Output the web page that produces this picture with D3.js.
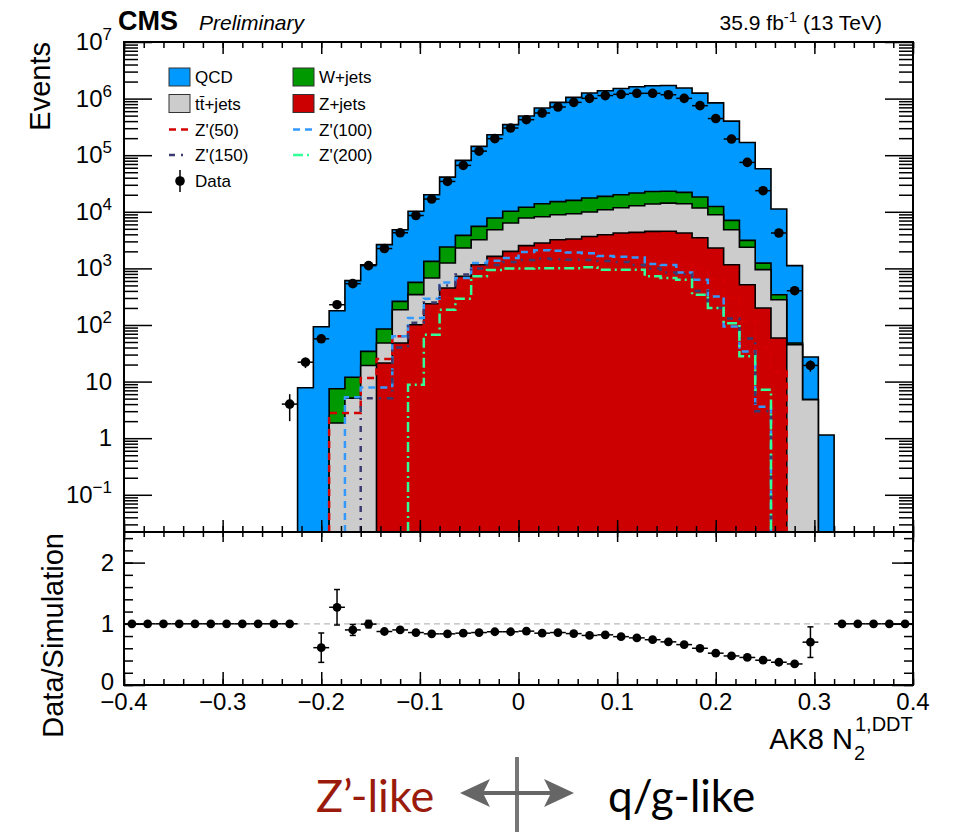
<!DOCTYPE html>
<html>
<head>
<meta charset="utf-8">
<title>AK8 N2 DDT</title>
<style>
  body { margin: 0; background: #fff; }
  svg { display: block; font-family: "Liberation Sans", Arial, sans-serif; }
  .ticks line { stroke: #000; stroke-width: 1.5; }
  .ticks path { display: none; }
  .ticks text { display: none; }
  .lbl { font-size: 24px; fill: #000; }
</style>
</head>
<body>
<svg width="957" height="832"></svg>
<script src="https://d3js.org/d3.v7.min.js"></script>
<script>
// binning: 50 bins of 0.016 from -0.4 to 0.4
var binStart = -0.4, binWidth = 0.016, nBins = 50;

// stacked backgrounds (events per bin), rows of 10 bins
var qcd = [0,0,0,0,0,0,0,0,0,0,
           0,7.8,93,171,595,1126,2545,4570,9630,18670,
           38600,77200,137500,222000,336000,481000,669000,842000,1034000,1242000,
           1361000,1490000,1598000,1667000,1677000,1518000,1232000,828000,393000,164000,
           56300,10860,1069,22.4,1.14,0,0,0,0,0];
var wjets = [0,0,0,0,0,0,0,0,0,0,
             0,0,0,5.6,6.8,14.9,37,75,222,654,
             1145,1540,2310,2930,3860,4230,5720,6210,6650,7590,
             7800,8200,8700,9200,8900,8100,6600,3510,2220,760,
             290,63,3,0,0,0,0,0,0,0];
var ttbar = [0,0,0,0,0,0,0,0,0,0,
             0,0,0,1.86,5.1,19.3,26.7,138,243,438,
             794,1567,2050,3200,4340,5250,5370,5680,5950,6240,
             6960,7580,8480,9200,9680,9680,8220,6600,3670,1855,
             750,221,45,4.8,0,0,0,0,0,0];
var zjets = [0,0,0,0,0,0,0,0,0,0,
             0,0,0,0,0,0,21.3,48,101,238,
             451,723,1160,1630,2000,2520,2810,3210,3300,3670,
             3940,4220,4320,4500,4520,4220,3480,2290,1160,515,
             200,59,0,0,0,0,0,0,0,0];

// signal shapes
var zp50 = [0,0,0,0,0,0,0,0,0,0,
            0,0,0,2.8,2.8,11.6,25,63,80,170,
            300,450,650,800,950,1100,1200,1300,1350,1400,
            1400,1400,1400,1350,1300,1200,1000,650,300,120,
            40,15,0,0,0,0,0,0,0,0];
var zp100 = [0,0,0,0,0,0,0,0,0,0,
             0,0,0,0,5.3,7.9,7.9,63,133,292,
             566,676,1245,1370,1530,1950,2100,2050,1900,1850,
             1650,1600,1550,1200,1150,850,630,320,94,34,
             3.6,0,0,0,0,0,0,0,0,0];
var zp150 = [0,0,0,0,0,0,0,0,0,0,
             0,0,0,0,0,5.1,5.1,40,110,250,
             500,780,1000,1150,1300,1400,1500,1450,1420,1400,
             1350,1300,1150,1000,850,800,400,200,130,58,
             3.0,0,0,0,0,0,0,0,0,0];
var zp200 = [0,0,0,0,0,0,0,0,0,0,
             0,0,0,0,0,0,0,0,8.8,67,
             186,290,723,940,1000,1000,1010,1010,1010,1050,
             950,950,950,723,676,631,343,200,107,28,
             7.2,0,0,0,0,0,0,0,0,0];

// observed data
var data = [0,0,0,0,0,0,0,0,0,0,
            4,22,57,228,537,1117,2240,4260,8600,16800,
            34400,66100,118000,196000,302000,424000,557000,711000,858000,1010000,
            1130000,1190000,1240000,1240000,1170000,1010000,750000,444000,193000,74600,
            23600,4220,403,19.3,0,0,0,0,0,0];

// data / simulation as drawn (null = not drawn)
var ratio = [1,1,1,1,1,1,1,1,1,1,
             1,null,0.61,1.27,0.90,0.995,0.874,0.90,0.857,0.836,
             0.836,0.847,0.857,0.87,0.87,0.88,0.847,0.857,0.84,0.81,
             0.82,0.79,0.77,0.74,0.705,0.66,0.60,0.52,0.475,0.45,
             0.405,0.372,0.344,0.70,null,1,1,1,1,1];
var ratioErr = [0,0,0,0,0,0,0,0,0,0,
                0,0,0.24,0.29,0.09,0.06,0.04,0.03,0.02,0.02,
                0.01,0.01,0.01,0.01,0.01,0.01,0.01,0.01,0.01,0.01,
                0.01,0.01,0.01,0.01,0.01,0.01,0.01,0.01,0.01,0.01,
                0.01,0.02,0.03,0.25,0,0,0,0,0,0];

var xTickValues = [-0.4,-0.3,-0.2,-0.1,0,0.1,0.2,0.3,0.4];
var xTickLabels = ['\u22120.4','\u22120.3','\u22120.2','\u22120.1','0','0.1','0.2','0.3','0.4'];
var logExponents = [-1,0,1,2,3,4,5,6,7];
var ratioTickValues = [0,1,2];

var svg = d3.select('svg');
var L = 124, R = 913, T = 42, MID = 532, B = 685;
var yMin = 0.022;

var x = d3.scaleLinear().domain([-0.4,0.4]).range([L,R]);
var y = d3.scaleLog().domain([yMin,1e7]).range([MID,T]);
var yr = d3.scaleLinear().domain([0,2.5]).range([B,MID]);

function edge(i) { return binStart + i*binWidth; }
function center(i) { return binStart + (i+0.5)*binWidth; }

function stepPath(vals, close) {
  var first = -1, last = -1;
  vals.forEach(function(v,i){ if (v > 0) { if (first < 0) first = i; last = i; } });
  var p = 'M' + x(edge(first)) + ',' + y(yMin);
  for (var i = first; i <= last; i++) {
    p += 'V' + y(Math.max(vals[i], yMin)) + 'H' + x(edge(i+1));
  }
  p += 'V' + y(yMin);
  return close ? p + 'Z' : p;
}

svg.append('clipPath').attr('id','up').append('rect')
  .attr('x',L).attr('y',T).attr('width',R-L).attr('height',MID-T);

var upper = svg.append('g').attr('clip-path','url(#up)');

// stack: cumulative sums
var cumZ = zjets.slice();
var cumT = zjets.map(function(v,i){ return v + ttbar[i]; });
var cumW = cumT.map(function(v,i){ return v + wjets[i]; });
var cumQ = cumW.map(function(v,i){ return v + qcd[i]; });

var stack = [
  {vals: cumQ, fill: '#0099ff'},
  {vals: cumW, fill: '#009900'},
  {vals: cumT, fill: '#cccccc'},
  {vals: cumZ, fill: '#cc0000'}
];
upper.selectAll('path.stack').data(stack).enter().append('path')
  .attr('class','stack')
  .attr('d', function(d){ return stepPath(d.vals, true); })
  .style('fill', function(d){ return d.fill; })
  .style('stroke', '#000').style('stroke-width', 1.6);

// signals
var signals = [
  {name: "Z'(50)",  vals: zp50,  color: '#d40000', dash: '7,5'},
  {name: "Z'(100)", vals: zp100, color: '#3399ff', dash: '7,5'},
  {name: "Z'(150)", vals: zp150, color: '#3a3a70', dash: '6,6,2,6'},
  {name: "Z'(200)", vals: zp200, color: '#33ff99', dash: '10,4,2,4'}
];
upper.selectAll('path.sig').data(signals).enter().append('path')
  .attr('class','sig')
  .attr('d', function(d){ return stepPath(d.vals, false); })
  .style('fill','none')
  .style('stroke', function(d){ return d.color; })
  .style('stroke-width', 2.5)
  .style('stroke-dasharray', function(d){ return d.dash; });

// data points
var dataPts = data.map(function(v,i){ return {i:i, v:v}; }).filter(function(d){ return d.v > 0; });
var dg = upper.append('g');
dg.selectAll('line.xe').data(dataPts).enter().append('line')
  .attr('x1', function(d){ return x(edge(d.i)); })
  .attr('x2', function(d){ return x(edge(d.i+1)); })
  .attr('y1', function(d){ return y(d.v); })
  .attr('y2', function(d){ return y(d.v); })
  .style('stroke','#000').style('stroke-width',1.5);
dg.selectAll('line.ye').data(dataPts).enter().append('line')
  .attr('x1', function(d){ return x(center(d.i)); })
  .attr('x2', function(d){ return x(center(d.i)); })
  .attr('y1', function(d){ return y(d.v + Math.sqrt(d.v)); })
  .attr('y2', function(d){ return y(Math.max(d.v - Math.sqrt(d.v), yMin)); })
  .style('stroke','#000').style('stroke-width',1.5);
dg.selectAll('circle').data(dataPts).enter().append('circle')
  .attr('cx', function(d){ return x(center(d.i)); })
  .attr('cy', function(d){ return y(d.v); })
  .attr('r', 4.8).style('fill','#000');

// ratio panel
svg.append('line').attr('x1',x(-0.4)).attr('x2',x(0.4)).attr('y1',yr(1)).attr('y2',yr(1))
  .style('stroke','#bbb').style('stroke-width',1.2).style('stroke-dasharray','6,4');
var rPts = ratio.map(function(v,i){ return {i:i, v:v, e:ratioErr[i]}; }).filter(function(d){ return d.v !== null; });
var rg = svg.append('g');
rg.selectAll('line.xe').data(rPts).enter().append('line')
  .attr('x1', function(d){ return x(edge(d.i)); })
  .attr('x2', function(d){ return x(edge(d.i+1)); })
  .attr('y1', function(d){ return yr(d.v); })
  .attr('y2', function(d){ return yr(d.v); })
  .style('stroke','#000').style('stroke-width',1.5);
rg.selectAll('line.ye').data(rPts.filter(function(d){ return d.e > 0; })).enter().append('line')
  .attr('x1', function(d){ return x(center(d.i)); })
  .attr('x2', function(d){ return x(center(d.i)); })
  .attr('y1', function(d){ return yr(d.v + d.e); })
  .attr('y2', function(d){ return yr(d.v - d.e); })
  .style('stroke','#000').style('stroke-width',1.5);
rg.selectAll('g.cap').data(rPts.filter(function(d){ return d.e > 0.05; })).enter().append('g')
  .each(function(d){
    var g = d3.select(this);
    [d.v + d.e, d.v - d.e].forEach(function(v){
      g.append('line').attr('x1', x(center(d.i)) - 3).attr('x2', x(center(d.i)) + 3)
        .attr('y1', yr(v)).attr('y2', yr(v)).style('stroke','#000').style('stroke-width',1.5);
    });
  });
rg.selectAll('circle').data(rPts).enter().append('circle')
  .attr('cx', function(d){ return x(center(d.i)); })
  .attr('cy', function(d){ return yr(d.v); })
  .attr('r', 4.4).style('fill','#000');

// ---- axes (ticks inside, ROOT style)
var xMinor = d3.range(-0.4, 0.4001, 0.02);
function tickAxis(axis, tx, ty) {
  svg.append('g').attr('class','ticks').attr('transform','translate('+tx+','+ty+')').call(axis.tickSizeOuter(0));
}
tickAxis(d3.axisTop(x).tickValues(xTickValues).tickSize(-12), 0, T);
tickAxis(d3.axisTop(x).tickValues(xMinor).tickSize(-6), 0, T);
tickAxis(d3.axisBottom(x).tickValues(xTickValues).tickSize(-12), 0, MID);
tickAxis(d3.axisBottom(x).tickValues(xMinor).tickSize(-6), 0, MID);
tickAxis(d3.axisTop(x).tickValues(xTickValues).tickSize(-10), 0, MID);
tickAxis(d3.axisTop(x).tickValues(xMinor).tickSize(-5), 0, MID);
tickAxis(d3.axisBottom(x).tickValues(xTickValues).tickSize(-13), 0, B);
tickAxis(d3.axisBottom(x).tickValues(xMinor).tickSize(-6), 0, B);

var decades = logExponents.map(function(e){ return Math.pow(10,e); });
var logMinor = [];
for (var e = -2; e < 7; e++) for (var m = 2; m <= 9; m++) {
  var v = m*Math.pow(10,e); if (v >= yMin && v <= 1e7) logMinor.push(v);
}
tickAxis(d3.axisLeft(y).tickValues(decades).tickSize(-28), L, 0);
tickAxis(d3.axisLeft(y).tickValues(logMinor).tickSize(-14), L, 0);
tickAxis(d3.axisRight(y).tickValues(decades).tickSize(-28), R, 0);
tickAxis(d3.axisRight(y).tickValues(logMinor).tickSize(-14), R, 0);

var rMinor = d3.range(0, 2.5001, 0.2);
tickAxis(d3.axisLeft(yr).tickValues(ratioTickValues).tickSize(-21), L, 0);
tickAxis(d3.axisLeft(yr).tickValues(rMinor).tickSize(-9), L, 0);
tickAxis(d3.axisRight(yr).tickValues(ratioTickValues).tickSize(-21), R, 0);
tickAxis(d3.axisRight(yr).tickValues(rMinor).tickSize(-9), R, 0);

// frames
svg.append('rect').attr('x',L).attr('y',T).attr('width',R-L).attr('height',MID-T)
  .style('fill','none').style('stroke','#000').style('stroke-width',2);
svg.append('rect').attr('x',L).attr('y',MID).attr('width',R-L).attr('height',B-MID)
  .style('fill','none').style('stroke','#000').style('stroke-width',2);

// tick labels
svg.selectAll('text.xl').data(xTickValues).enter().append('text')
  .attr('class','lbl').attr('x', function(d){ return x(d); }).attr('y', 710)
  .attr('text-anchor','middle').text(function(d,i){ return xTickLabels[i]; });

var yl = svg.selectAll('text.yl').data(logExponents).enter().append('text')
  .attr('class','lbl').attr('x', 112).attr('y', function(d){ return y(Math.pow(10,d)) + 8; })
  .attr('text-anchor','end');
yl.each(function(d){
  var t = d3.select(this);
  if (d === 0) { t.text('1'); return; }
  if (d === 1) { t.text('10'); return; }
  t.append('tspan').text('10');
  t.append('tspan').attr('dy', -10).style('font-size','17px').text(d < 0 ? '\u2212' + (-d) : d);
});
svg.selectAll('text.rl').data(ratioTickValues).enter().append('text')
  .attr('class','lbl').attr('x', 114).attr('y', function(d){ return yr(d) + (d === 0 ? 5 : 8); })
  .attr('text-anchor','end').text(function(d){ return d; });

// axis titles
svg.append('text').attr('transform','translate(50,42) rotate(-90)').attr('text-anchor','end')
  .style('font-size','29px').text('Events');
svg.append('text').attr('transform','translate(63,533) rotate(-90)').attr('text-anchor','end')
  .style('font-size','29px').text('Data/Simulation');
svg.append('text').attr('x',853).attr('y',749).attr('text-anchor','end').style('font-size','29px').text('AK8 N');
svg.append('text').attr('x',854).attr('y',760).style('font-size','20px').text('2');
svg.append('text').attr('x',855).attr('y',731).style('font-size','20px').text('1,DDT');

// header
svg.append('text').attr('x',118).attr('y',30).style('font-size','27px').style('font-weight','bold').text('CMS');
svg.append('text').attr('x',199).attr('y',30).style('font-size','21px').style('font-style','italic').text('Preliminary');
var lumi = svg.append('text').attr('x',882).attr('y',30).attr('text-anchor','end').style('font-size','21px');
lumi.append('tspan').text('35.9 fb');
lumi.append('tspan').attr('dy',-8).style('font-size','15px').text('-1');
lumi.append('tspan').attr('dy',8).text(' (13 TeV)');

// legend
var legendBoxes = [
  {label: 'QCD', fill: '#0099ff', col: 0, row: 0},
  {label: 'W+jets', fill: '#009900', col: 1, row: 0},
  {label: 't\u0074\u0304+jets', fill: '#cccccc', col: 0, row: 1},
  {label: 'Z+jets', fill: '#cc0000', col: 1, row: 1}
];
var legendLines = [
  {s: signals[0], col: 0, row: 2},
  {s: signals[1], col: 1, row: 2},
  {s: signals[2], col: 0, row: 3},
  {s: signals[3], col: 1, row: 3}
];
var colX = [169, 293], rowY = [77, 103.5, 129.5, 155, 181];
var lg = svg.append('g').style('font-size','17px');
legendBoxes.forEach(function(d){
  lg.append('rect').attr('x', colX[d.col]).attr('y', rowY[d.row]-9).attr('width',21).attr('height',18)
    .style('fill', d.fill).style('stroke','#333').style('stroke-width',1);
  lg.append('text').attr('x', colX[d.col]+26).attr('y', rowY[d.row]+6).text(d.label);
});
legendLines.forEach(function(d){
  lg.append('line').attr('x1', colX[d.col]).attr('x2', colX[d.col]+20)
    .attr('y1', rowY[d.row]).attr('y2', rowY[d.row])
    .style('stroke', d.s.color).style('stroke-width',2.5).style('stroke-dasharray', d.s.dash);
  lg.append('text').attr('x', colX[d.col]+26).attr('y', rowY[d.row]+6).text(d.s.name);
});
lg.append('line').attr('x1',180).attr('x2',180).attr('y1',rowY[4]-11).attr('y2',rowY[4]+11)
  .style('stroke','#000').style('stroke-width',1.5);
lg.append('circle').attr('cx',180).attr('cy',rowY[4]).attr('r',4.8).style('fill','#000');
lg.append('text').attr('x',195).attr('y',rowY[4]+6).text('Data');

// bottom annotation
var ann = svg.append('g').style('font-family','Lato, "Noto Sans", sans-serif');
ann.append('text').attr('x',316).attr('y',812).style('font-size','45px').style('fill','#9a1b0b').text('Z\u2019-like');
ann.append('text').attr('x',608).attr('y',812).style('font-size','44px').style('fill','#000').text('q/g-like');
ann.append('rect').attr('x',515).attr('y',757).attr('width',4).attr('height',75).style('fill','#777');
ann.append('line').attr('x1',480).attr('x2',555).attr('y1',793).attr('y2',793)
  .style('stroke','#666').style('stroke-width',4);
ann.append('path').attr('d','M460,793 L490,779 L483,793 L490,807 Z').style('fill','#666');
ann.append('path').attr('d','M574,793 L544,779 L551,793 L544,807 Z').style('fill','#666');
</script>
</body>
</html>
